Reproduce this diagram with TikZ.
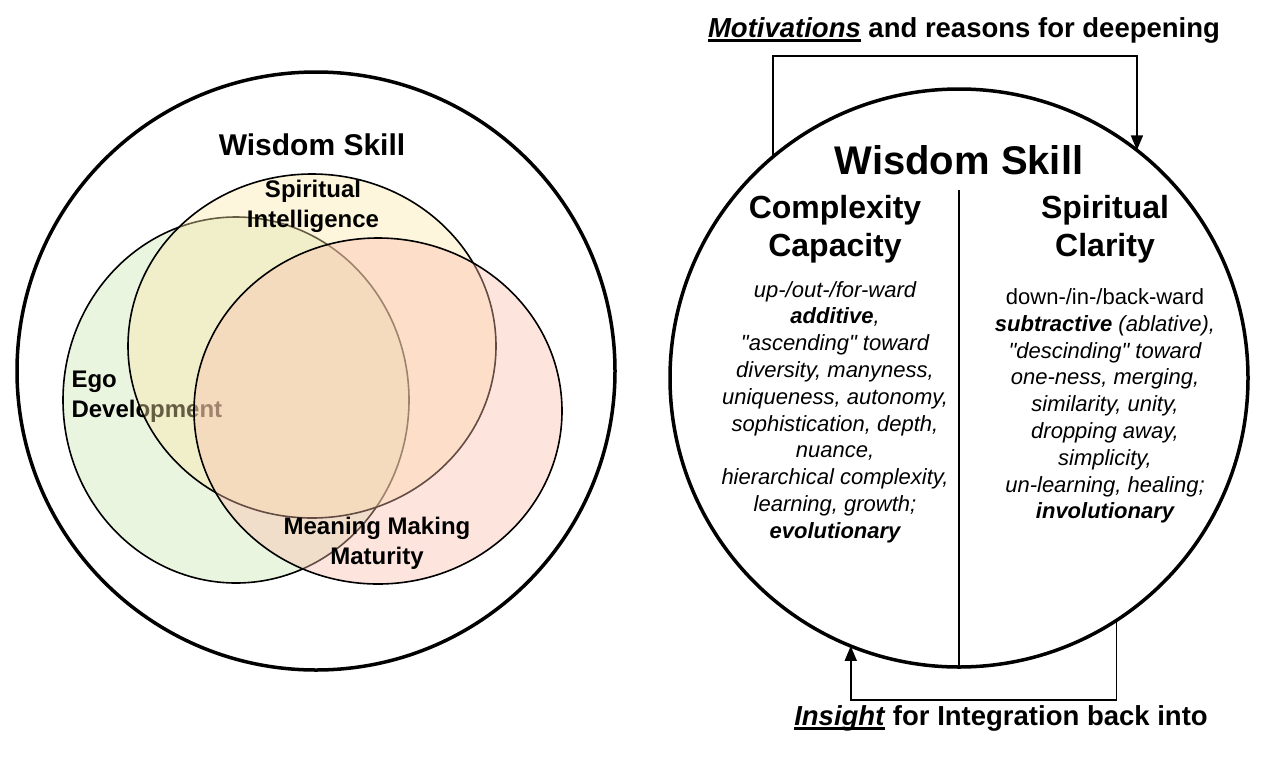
\documentclass[tikz,border=0pt]{standalone}
\usepackage{fontspec}
\setmainfont{Liberation Sans}[Ligatures=TeXOff]
\usetikzlibrary{positioning,arrows.meta}

\newcommand\thickul[1]{\setbox0\hbox{#1}\rlap{\rule[-4.5pt]{\wd0}{2.2pt}}\box0\relax}

\tikzset{
  bigcirc/.style={draw, circle, line width=3.5pt, inner sep=0pt, outer sep=0pt},
  venn/.style={draw=black, line width=1.6pt, fill opacity=0.4},
  title/.style={font=\bfseries\fontsize{30}{36}\selectfont},
  head/.style={font=\bfseries\fontsize{32}{38}\selectfont, align=center},
  body/.style={font=\itshape\fontsize{22}{26.8}\selectfont, align=center},
  lbl/.style={font=\bfseries\fontsize{24}{30}\selectfont, align=center},
  caption/.style={font=\bfseries\fontsize{27.5}{33}\selectfont},
  loop/.style={line width=1.8pt, -{Triangle[length=15pt,width=12pt]}},
}
\definecolor{egogreen}{RGB}{202,230,175}
\definecolor{spiryellow}{RGB}{250,230,168}
\definecolor{meanpink}{RGB}{250,190,172}

\begin{document}
\begin{tikzpicture}[x=1pt, y=-1pt]
  \useasboundingbox (0,0) rectangle (1280,766);

  % left: venn inside the wisdom circle
  \node[bigcirc, minimum size=598pt] (L) at (316,371) {};
  \node[title] (WSL) at (312,145) {Wisdom Skill};

  \path[venn, fill=egogreen] (236,400) ellipse [x radius=173pt, y radius=183pt];
  \node[lbl, align=left, anchor=west] (Ego) at (68,397) {Ego\\Development};
  \path[venn, fill=spiryellow] (312,346) ellipse [x radius=184pt, y radius=172pt];
  \path[venn, fill=meanpink] (378,411) ellipse [x radius=184pt, y radius=173pt];

  \node[lbl] (SI) at (313,206) {Spiritual\\Intelligence};
  \node[lbl] (MM) at (377,543) {Meaning Making\\Maturity};

  % right: the two poles
  \node[bigcirc, minimum size=578pt] (R) at (959,378) {};
  \node[font=\bfseries\fontsize{40}{48}\selectfont] (WSR) at (959,160) {Wisdom Skill};
  \coordinate (divtop) at (959,190);
  \draw[line width=1.8pt] (divtop) -- (R.south);

  \node[head] (CC) at (835,229) {Complexity\\Capacity};
  \node[head] (SC) at (1105,229) {Spiritual\\Clarity};

  \node[body] (CCtext) at (835,412) {up-/out-/for-ward\\
    \textbf{additive},\\
    "ascending" toward\\
    diversity, manyness,\\
    uniqueness, autonomy,\\
    sophistication, depth,\\
    nuance,\\
    hierarchical complexity,\\
    learning, growth;\\
    \textbf{evolutionary}};
  \node[body] (SCtext) at (1105,406) {\upshape down-/in-/back-ward\\
    \textbf{subtractive} (ablative),\\
    "descinding" toward\\
    one-ness, merging,\\
    similarity, unity,\\
    dropping away,\\
    simplicity,\\
    un-learning, healing;\\
    \textbf{involutionary}};

  % loops round the right circle
  \node[caption] (Mot) at (964,30) {\thickul{\textit{Motivations}} and reasons for deepening};
  \coordinate (topbend) at (959,56);
  \draw[loop] (R.130.4) |- (topbend) -| (R.52.4);

  \node[caption] (Ins) at (1001,718) {\thickul{\textit{Insight}} for Integration back into};
  \coordinate (botbend) at (980,700);
  \draw[loop] (R.-57.8) |- (botbend) -| (R.-112.6);
\end{tikzpicture}
\end{document}
